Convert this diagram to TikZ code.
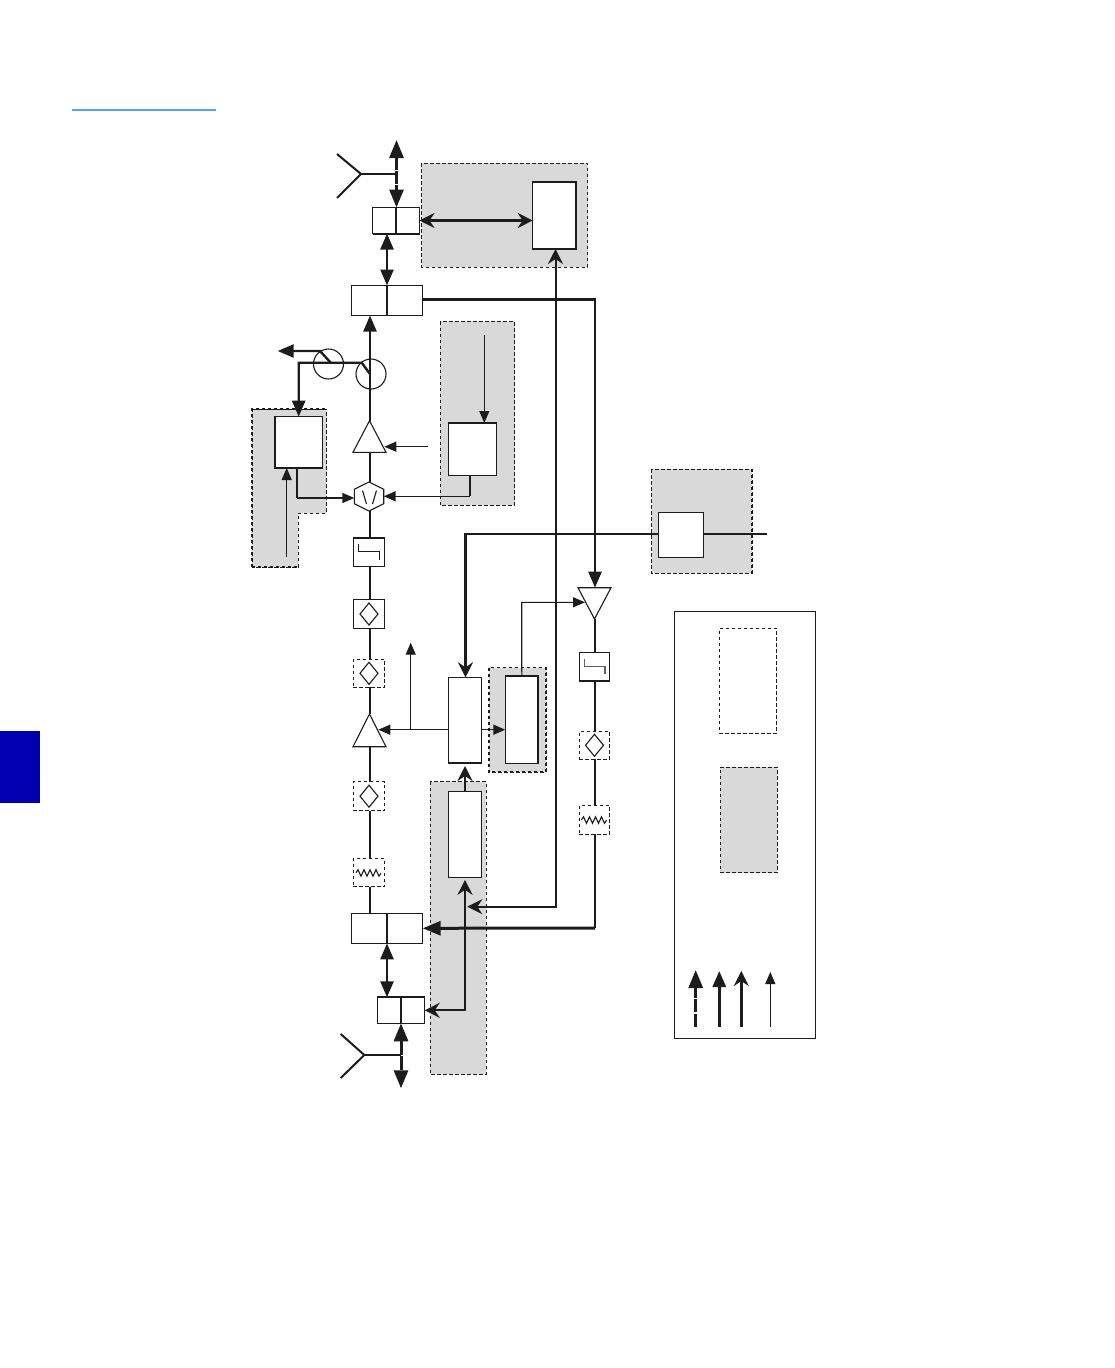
\documentclass[tikz,border=0pt]{standalone}
\usetikzlibrary{arrows.meta,calc}
\definecolor{ink}{HTML}{1C1C1C}
\definecolor{regiongray}{HTML}{D9D9D9}
\tikzset{
  x=1pt,y=-1pt,
  outline/.style={draw=ink,line width=1.1pt,fill=white},
  dashbox/.style={draw=ink,line width=1pt,dash pattern=on 3.5pt off 2.5pt,fill=white},
  hidden/.style={draw=none,fill=none},
  region/.style={fill=regiongray,draw=ink,line width=1pt,dash pattern=on 3.5pt off 2.5pt},
  regionedge/.style={draw=ink,line width=1.8pt,dash pattern=on 3pt off 3pt},
  heavy/.style={draw=ink,line width=3pt},
  main/.style={draw=ink,line width=2.4pt},
  mid/.style={draw=ink,line width=2pt},
  sig/.style={draw=ink,line width=1.5pt},
  thin line/.style={draw=ink,line width=1.1pt},
  symb/.style={draw=ink,line width=1.1pt,fill=white},
  rim/.style={draw=ink,line width=2pt},
  ft/.tip={Triangle[width=14pt,length=18pt]},
  fm/.tip={Triangle[width=13pt,length=16pt]},
  fs/.tip={Triangle[width=10pt,length=12pt]},
  br/.tip={Stealth[width=15pt,length=15pt,inset=5pt]},
}
\newcommand{\bx}[6][outline]{%
  \pgfmathsetmacro{\bxw}{#5-#3}\pgfmathsetmacro{\bxh}{#6-#4}%
  \node[#1,anchor=north west,inner sep=0pt,outer sep=0pt,minimum width=\bxw pt,minimum height=\bxh pt] (#2) at (#3,#4) {};}
\newcommand{\regionrect}[5]{\path[region] (#2,#3) rectangle (#4,#5); \coordinate (#1nw) at (#2,#3); \coordinate (#1se) at (#4,#5);}
\newcommand{\diam}[1]{%
  \draw[symb] ([yshift=-11pt]#1.center) -- ([xshift=9pt]#1.center) -- ([yshift=11pt]#1.center) -- ([xshift=-9pt]#1.center) -- cycle;}
\newcommand{\zig}[1]{%
  \draw[thin line] ([xshift=-13pt]#1.center) -- ++(2,-3) -- ++(3,6.5) -- ++(3,-6.5) -- ++(3,6.5) -- ++(3,-6.5) -- ++(3,6.5) -- ++(3,-6.5) -- ++(3,6.5) -- ++(2,-3);}
\newcommand{\triup}[1]{\draw[symb,line join=miter] (#1.north) -- (#1.south east) -- (#1.south west) -- cycle;}
\begin{document}
\begin{tikzpicture}
\useasboundingbox (0,0) rectangle (1114,1368);
\fill[white] (0,0) rectangle (1114,1368);

% page furniture
\coordinate (ruleL) at (72,110); \coordinate (ruleR) at (216,110);
\draw[color={rgb,255:red,77;green,166;blue,255},line width=1.8pt] (ruleL) -- (ruleR);
\fill[color={rgb,255:red,0;green,0;blue,176}] (0,731) rectangle (40,803);

% shaded regions
\regionrect{rTop}{421.7}{163}{587.7}{267}
\regionrect{rE}{440}{321.7}{514.7}{505.3}
\regionrect{rH}{651.7}{469}{752}{573.3}
\regionrect{rGg}{489}{667.7}{546}{772.3}
\regionrect{rI}{430}{781.7}{486.3}{1074.3}
\path[region] (252,409) -- (326.7,409) -- (326.7,513) -- (298,513) -- (298,567) -- (252,567) -- cycle;
\coordinate (rDa) at (252,409); \coordinate (rDb) at (326.7,409); \coordinate (rDc) at (252,567); \coordinate (rDd) at (298,567);
\draw[regionedge] (rDc) -- (rDa) -- (rDb);
\draw[regionedge] (rDc) -- (rDd);
\draw[regionedge] (rHnw -| rHse) -- (rHse);
\draw[regionedge] (rGgnw) |- (rGgse) -- (rGgse |- rGgnw);

% boxes
\bx{A}{372.5}{207.5}{419.5}{233.5}
\bx{B}{351.5}{285.5}{422.5}{315.5}
\bx{C}{532.7}{182}{576}{249}
\bx{D}{274.7}{416.7}{322.7}{468}
\bx{E}{448.7}{423}{496.7}{475.3}
\bx{Fstep}{353.3}{537.7}{384.7}{566.3}
\bx{Fdia}{353.3}{599.3}{384.7}{628.7}
\bx[dashbox]{Ddia}{353.3}{659.3}{384.7}{687.3}
\bx[dashbox]{Edia}{353.3}{781.7}{384.7}{810.7}
\bx[dashbox]{Lres}{353.3}{858.7}{384.7}{886.7}
\bx{G}{448.3}{677.3}{481.7}{763}
\bx{Hh}{505.3}{676}{538.3}{763.7}
\bx{I}{448.3}{791.3}{481.7}{877.3}
\bx{J}{351.3}{913.3}{422.7}{943.3}
\bx{K}{377.3}{997.3}{424.7}{1023.3}
\bx{H}{658.3}{512.3}{703.7}{557.3}
\bx{Rstep}{579.3}{652.3}{609.7}{681}
\bx[dashbox]{Rdia}{579.3}{731.3}{609.7}{759.3}
\bx[dashbox]{Rres}{579.3}{805.3}{609.7}{834.3}
\bx[hidden]{T1}{353}{420.7}{386}{452.3}
\bx[hidden]{T2}{353}{714}{386}{746.7}
\bx[hidden]{T3}{578}{587.7}{611}{619}
\bx[hidden]{Hex}{354.3}{482}{383.7}{511}
\node[circle,draw=ink,line width=1.1pt,inner sep=0pt,minimum size=30pt] (c1) at (371,374) {};
\node[circle,draw=ink,line width=1.1pt,inner sep=0pt,minimum size=30pt] (c2) at (328.5,364) {};

% legend
\bx{Leg}{674.7}{611.7}{815.7}{1038.3}
\bx[dashbox]{LegA}{719.3}{628.3}{776.7}{733.3}
\bx[region]{LegB}{720.3}{767.3}{777.3}{872.7}

% dividers and rims
\draw[thin line] (A.north) -- (A.south);
\draw[thin line] (B.north) -- (B.south);
\draw[thin line] (J.north) -- (J.south);
\draw[main] (K.north) -- (K.south);
\draw[rim] (C.south west) -- (C.south east);
\draw[rim] (E.north west) -- (E.north east);
\draw[rim] (D.north west) -- (D.south west);
\draw[rim] (Fstep.north west) -- (Fstep.north east);
\draw[rim] (Rstep.south west) -- (Rstep.south east);
\draw[rim] (G.south west) -- (G.south east);
\draw[rim] (Hh.north east) -- (Hh.south east);
\draw[rim] (K.north west) -- (K.north east);
\draw[rim] (A.south west) -- (A.south east);

% symbols
\triup{T1}\triup{T2}
\draw[symb,line join=miter] (T3.south) -- (T3.north east) -- (T3.north west) -- cycle;
\draw[symb] (Hex.north) -- ($(Hex.north east)!.25!(Hex.south east)$) -- ($(Hex.north east)!.75!(Hex.south east)$) -- (Hex.south) -- ($(Hex.north west)!.75!(Hex.south west)$) -- ($(Hex.north west)!.25!(Hex.south west)$) -- cycle;
\draw[thin line] ([shift={(-6.5,-6)}]Hex.center) -- ([shift={(-2.5,7.5)}]Hex.center);
\draw[thin line] ([shift={(7.5,-6)}]Hex.center) -- ([shift={(3.5,7.5)}]Hex.center);
\draw[thin line] ([shift={(-10.7,-8.5)}]Fstep.center) -- ++(0,7.7) -- ++(21,0) -- ++(0,8.3);
\draw[thin line,draw=ink!70] ([shift={(-10.2,-7.7)}]Rstep.center) -- ++(0,7.3) -- ++(20.7,0) -- ++(0,8);
\diam{Fdia}\diam{Ddia}\diam{Edia}\diam{Rdia}
\zig{Lres}\zig{Rres}

% antennas
\coordinate (antT) at (361,174); \coordinate (antTa) at (337,154); \coordinate (antTb) at (337,198);
\coordinate (antB) at (364.3,1055); \coordinate (antBa) at (340.7,1034); \coordinate (antBb) at (340.7,1078);
\coordinate (dT) at (396.5,140); \coordinate (dB) at (401,1088.3);
\draw[mid] (antTa) -- (antT) -- (antTb);
\draw[mid] (antT) -- (antT -| dT);
\draw[mid] (antBa) -- (antB) -- (antBb);
\draw[mid] (antB) -- (antB -| dB);
\draw[heavy,dash pattern=on 12.5pt off 1.5pt,{ft}-{ft}] (dT) -- (A.north -| dT);
\draw[heavy,dash pattern=on 14pt off 1.5pt,{ft}-{ft}] (K.south -| dB) -- (dB);

% main chain
\coordinate (mx) at (370,0);
\draw[main,{fm}-{fm}] (A.south -| B.north) -- (B.north);
\draw[heavy,{br}-{br}] (A.east) -- (C.west |- A.east);
\draw[main,-{fm}] (T1.north -| mx) -- (B.south -| mx);
\draw[main] (T1.south -| mx) -- (Hex.north -| mx);
\draw[main] (Hex.south -| mx) -- (Fstep.north -| mx);
\draw[main] (Fstep.south -| mx) -- (Fdia.north -| mx);
\draw[main] (Fdia.south -| mx) -- (Ddia.north -| mx);
\draw[main] (Ddia.south -| mx) -- (T2.north -| mx);
\draw[main] (T2.south -| mx) -- (Edia.north -| mx);
\draw[main] (Edia.south -| mx) -- (Lres.north -| mx);
\draw[main] (Lres.south -| mx) -- (J.north -| mx);
\draw[main,{fm}-{fm}] (J.south) -- (K.north -| J.south);

% couplers
\coordinate (tapA) at (370,374); \coordinate (tapB) at (361.7,362.7); \coordinate (tapC) at (298.7,362.7);
\coordinate (tapD) at (330.7,362.7); \coordinate (tapE) at (320,351); \coordinate (tapF) at (277.7,351);
\draw[main,-{fm}] (tapA) -- (tapB) -- (tapC) -- (D.north);
\draw[main,-{fm}] (tapD) -- (tapE) -- (tapF);

% control inputs
\coordinate (dIn) at (286.7,556.7); \coordinate (dOut) at (297,498);
\coordinate (eIn) at (484.3,335); \coordinate (eOut) at (470,496.3);
\coordinate (gainIn) at (428,446.7); \coordinate (gainTip) at (384.3,446.7);
\draw[thin line,-{fs}] (dIn) -- (D.south -| dIn);
\draw[mid] (D.south -| dOut) -- (dOut);
\draw[sig,-{fs}] (dOut) -- (Hex.west |- dOut);
\draw[thin line,-{fs}] (eIn) -- (E.north -| eIn);
\draw[mid] (E.south -| eOut) -- (eOut);
\draw[sig,-{fs}] (eOut) -- (Hex.east |- eOut);
\draw[sig,-{fs}] (gainIn) -- (gainTip);

% lower right block
\coordinate (gTap) at (465,729.7); \coordinate (upEnd) at (410.7,642.7); \coordinate (upRoot) at (410.7,729.7); \coordinate (t2Tip) at (378.3,729.7);
\draw[sig,-{fs}] (G.west |- gTap) -- (t2Tip);
\draw[thin line,-{fs}] (upRoot) -- (upEnd);
\draw[sig,-{fs}] (G.east |- gTap) -- (Hh.west |- gTap);
\coordinate (hUp) at (521.7,602.3); \coordinate (ampIn) at (585,602.3);
\draw[thin line,-{fs}] (Hh.north) -- (hUp) -- (ampIn);
\draw[mid,shorten >=3pt,-{br}] (I.north) -- (G.south);

% top-to-bottom paths
\coordinate (cJ) at (555.5,906.7); \coordinate (cTip) at (467.3,906.7);
\draw[mid,{br}-{br}] (cTip) -- (cJ) -- (C.south -| cJ);
\coordinate (bR) at (595,299.5);
\draw[main,-{fm}] (B.east |- bR) -- (bR) -- (T3.north -| bR);
\coordinate (hL) at (465.5,533.7); \coordinate (hR) at (766.7,533.7);
\draw[main,-{br}] (H.west |- hL) -- (hL) -- (G.north -| hL);
\draw[main] (H.east |- hR) -- (hR);
\draw[main] (T3.south -| bR) -- (Rstep.north -| bR);
\draw[main] (Rstep.south -| bR) -- (Rdia.north -| bR);
\draw[main] (Rdia.south -| bR) -- (Rres.north -| bR);
\coordinate (jR) at (595,928);
\draw[main] (Rres.south -| bR) -- (jR);
\draw[heavy,-{ft}] (jR) -- (J.east);
\coordinate (kR) at (465,1010.3);
\draw[mid,{br}-{br}] (K.east) -- (kR) -- ($(I.south -| kR)+(0,2.5)$);

% legend arrows
\coordinate (l1a) at (695.7,1026.7); \coordinate (l1b) at (695.7,970);
\coordinate (l2a) at (719.3,1026.7); \coordinate (l2b) at (719.3,971);
\coordinate (l3a) at (741.3,1026.7); \coordinate (l3b) at (741.3,971);
\coordinate (l4a) at (770.3,1026.7); \coordinate (l4b) at (770.3,972);
\draw[heavy,dash pattern=on 13pt off 1.5pt,-{ft}] (l1a) -- (l1b);
\draw[heavy,-{fm}] (l2a) -- (l2b);
\draw[heavy,-{br}] (l3a) -- (l3b);
\draw[thin line,-{fs}] (l4a) -- (l4b);
\end{tikzpicture}
\end{document}
